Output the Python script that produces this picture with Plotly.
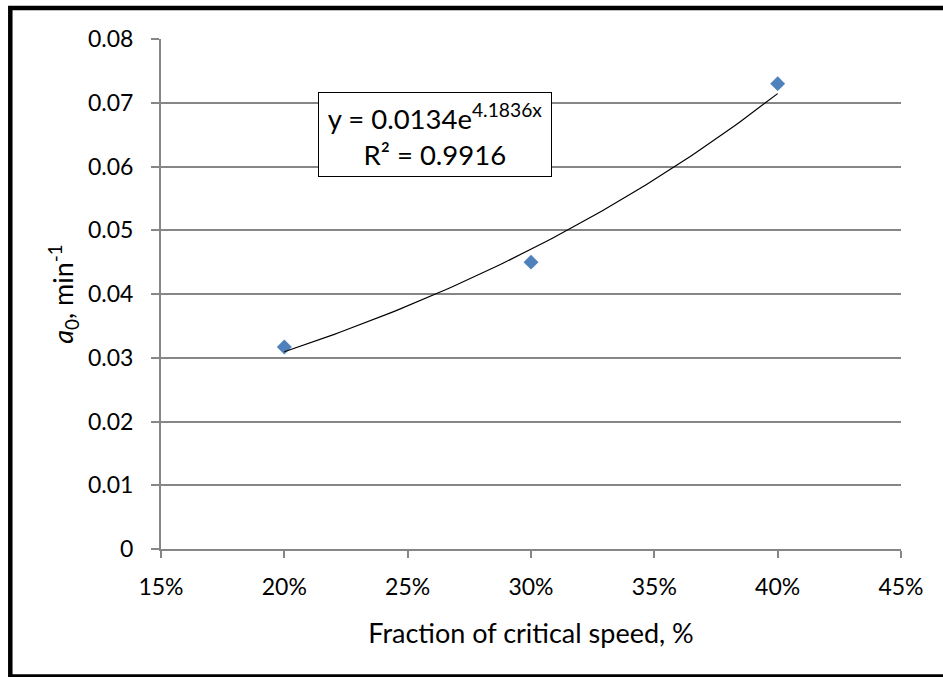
import numpy as np
import plotly.graph_objects as go

# Measured rate constant vs. mill speed (fraction of critical speed)
speed_fraction = [0.20, 0.30, 0.40]
a0_values = [0.0317, 0.0450, 0.0730]

# Exponential trendline y = A * exp(B * x), as reported in the box
fit_A = 0.0134
fit_B = 4.1836
fit_R2 = 0.9916

x_ticks = [0.15, 0.20, 0.25, 0.30, 0.35, 0.40, 0.45]
y_ticks = [0, 0.01, 0.02, 0.03, 0.04, 0.05, 0.06, 0.07, 0.08]

W, H = 943, 677
ML, MR, MT, MB = 161, 42, 39, 128
PW, PH = W - ML - MR, H - MT - MB


def px_x(px):
    return (px - ML) / PW


def px_y(py):
    return (H - MB - py) / PH


FONT = "Lato, 'Noto Sans', sans-serif"
GRID = "#868686"

x_fit = np.linspace(min(speed_fraction), max(speed_fraction), 80)
y_fit = fit_A * np.exp(fit_B * x_fit)

fig = go.Figure()
fig.add_trace(go.Scatter(
    x=speed_fraction, y=a0_values, mode="markers",
    marker=dict(symbol="diamond", size=11.5, color="#4F81BD", line=dict(width=0)),
    showlegend=False,
))
fig.add_trace(go.Scatter(
    x=x_fit, y=y_fit, mode="lines",
    line=dict(color="black", width=1.2),
    showlegend=False,
))

fig.update_layout(
    width=W, height=H,
    margin=dict(l=ML, r=MR, t=MT, b=MB, autoexpand=False),
    paper_bgcolor="white", plot_bgcolor="white",
    font=dict(family=FONT, size=23, color="black"),
    xaxis=dict(
        range=[0.15, 0.45], tickvals=x_ticks, tickformat=".0%",
        showgrid=False, zeroline=False,
        showline=True, linecolor=GRID, linewidth=2,
        ticks="outside", ticklen=7, tickwidth=2, tickcolor=GRID,
        ticklabelstandoff=9,
        title=dict(text="Fraction of critical speed, %", standoff=26,
                   font=dict(family=FONT, size=27)),
        automargin=False,
    ),
    yaxis=dict(
        range=[0, 0.08], tickvals=y_ticks,
        showgrid=True, gridcolor=GRID, gridwidth=1.6, zeroline=False,
        showline=True, linecolor=GRID, linewidth=2,
        ticks="outside", ticklen=8, tickwidth=2, tickcolor=GRID,
        ticklabelstandoff=13,
        title=dict(text="<i>a</i><sub>0</sub>, min<sup>-1</sup>", standoff=6,
                   font=dict(family=FONT, size=27)),
        automargin=False,
    ),
    annotations=[dict(
        xref="paper", yref="paper",
        x=px_x(434.5), y=px_y(134.5), xanchor="center", yanchor="middle",
        text=f"y = {fit_A}e<sup>{fit_B}x</sup><br>R² = {fit_R2}",
        showarrow=False, align="center",
        font=dict(family=FONT, size=27.5, color="black"),
        bgcolor="white", bordercolor="black", borderwidth=1, borderpad=0,
        width=232, height=83,
    )],
    shapes=[dict(
        type="rect", xref="paper", yref="paper",
        x0=px_x(10.3), x1=px_x(955), y0=px_y(676.5), y1=px_y(8),
        line=dict(color="black", width=4.5), fillcolor="rgba(0,0,0,0)",
        layer="above",
    )],
)

fig.write_html("out.html")
